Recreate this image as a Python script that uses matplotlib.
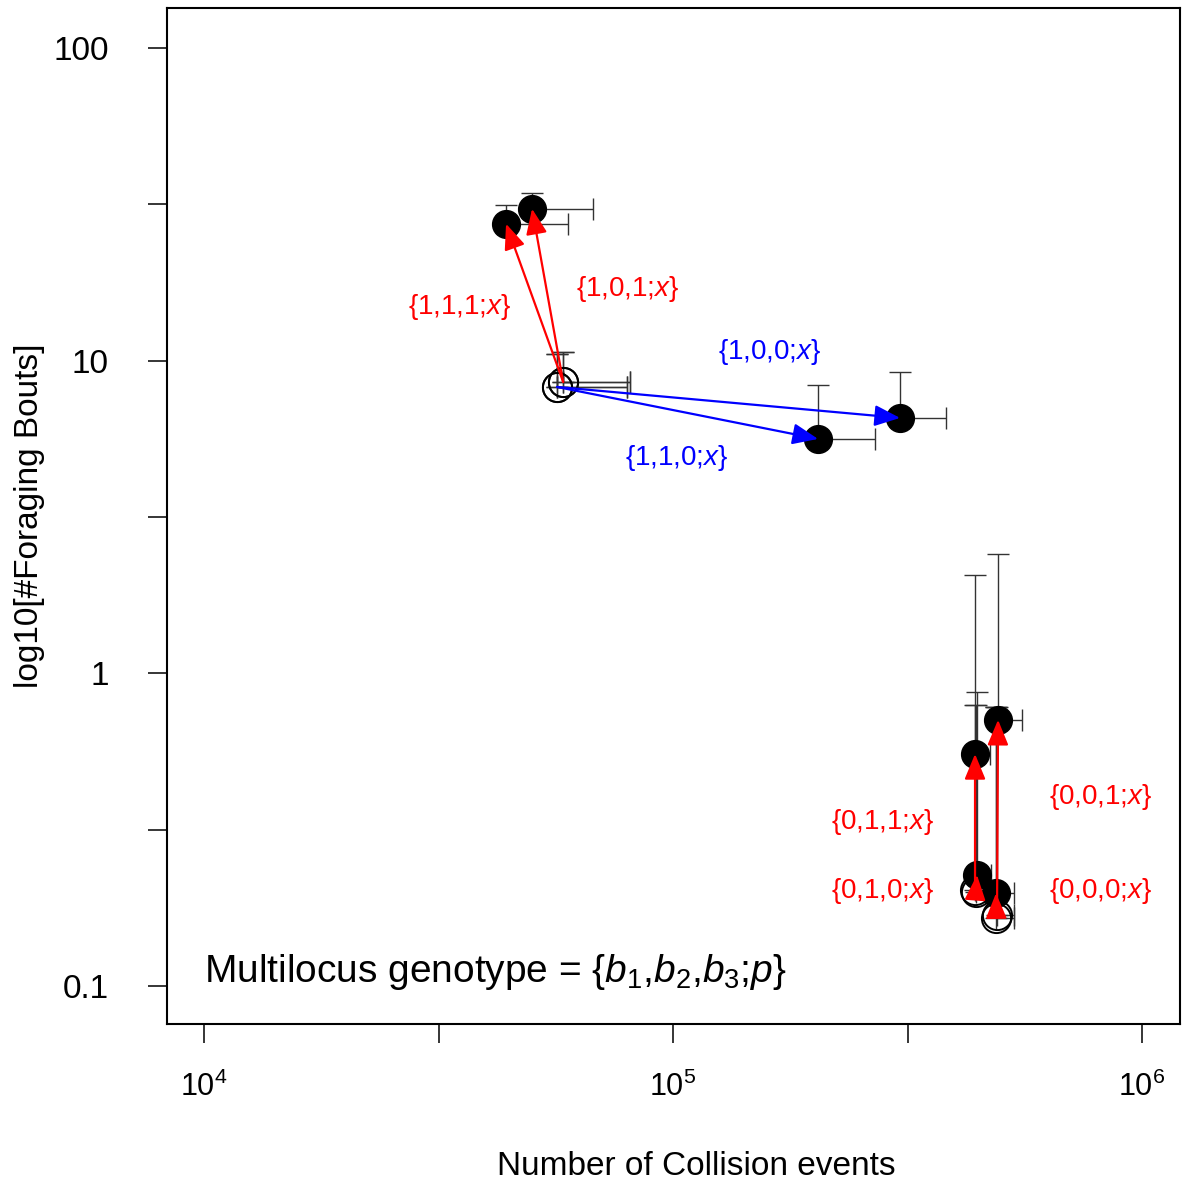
import numpy as np
import matplotlib
matplotlib.use('Agg')
import matplotlib.pyplot as plt

plt.rcParams['font.family'] = ['Liberation Sans', 'DejaVu Sans']
plt.rcParams['mathtext.fontset'] = 'custom'
plt.rcParams['mathtext.rm'] = 'Liberation Sans'
plt.rcParams['mathtext.it'] = 'Liberation Sans:italic'

# **********************************************
# dados: genótipos, ancestral (aberto) e evoluído (cheio)
genotypes = ['1,1,1', '1,0,1', '1,0,0', '1,1,0', '0,1,1', '0,0,1', '0,1,0', '0,0,0']
arrow_colors = ['red', 'red', 'blue', 'blue', 'red', 'red', 'red', 'red']

anc_x = [58300, 58300, 56600, 56600, 440500, 490700, 442000, 489000]
anc_y = [8.55, 8.55, 8.24, 8.24, 0.203, 0.169, 0.200, 0.165]
anc_xhi = [81000, 81000, 79800, 79800, 470000, 533000, 472000, 533000]
anc_yhi = [10.66, 10.66, 10.50, 10.50, 0.79, 0.78, 0.79, 0.78]

evo_x = [44050, 50050, 304800, 203800, 440500, 493200, 444800, 488300]
evo_y = [27.4, 30.6, 6.56, 5.62, 0.552, 0.710, 0.2266, 0.198]
evo_xhi = [59730, 67520, 382000, 269600, 474000, 554700, 476000, 533400]
evo_yhi = [31.5, 34.4, 9.20, 8.36, 2.06, 2.41, 0.872, 0.781]

# posições dos rótulos (em coordenadas de dados)
label_x = [35150, 80160, 161000, 102000, 280500, 817800, 280500, 817800]
label_y = [14.85, 16.96, 10.66, 4.88, 0.335, 0.403, 0.2014, 0.2014]

# **********************************************
fig = plt.figure(figsize=(11.82, 11.82), dpi=100)
ax = fig.add_axes([167 / 1182, 1 - 1024 / 1182, (1180 - 167) / 1182, (1024 - 8) / 1182])
ax.set_xscale('log')
ax.set_yscale('log')
ax.set_xlim(10**3.921, 10**6.081)
ax.set_ylim(10**-1.1215, 10**2.128)

for i in range(len(genotypes)):
    for x, y, xh, yh in [(anc_x[i], anc_y[i], anc_xhi[i], anc_yhi[i]),
                         (evo_x[i], evo_y[i], evo_xhi[i], evo_yhi[i])]:
        ax.errorbar([x], [y], xerr=[[0], [xh - x]], yerr=[[0], [yh - y]], fmt='none',
                    ecolor='#333333', elinewidth=1, capsize=8, capthick=1, zorder=2)
    ax.plot(anc_x[i], anc_y[i], 'o', ms=21, mfc='none', mec='black', mew=1.4, zorder=3)
    ax.plot(evo_x[i], evo_y[i], 'o', ms=20, mfc='black', mec='black', zorder=3)
    ax.annotate('', xy=(evo_x[i], evo_y[i]), xytext=(anc_x[i], anc_y[i]),
                arrowprops=dict(arrowstyle='-|>,head_length=0.65,head_width=0.27',
                                color=arrow_colors[i], lw=1.6, mutation_scale=24,
                                shrinkA=0, shrinkB=0), zorder=4)
    ax.text(label_x[i], label_y[i], '{' + genotypes[i] + ';$\\mathit{x}$}',
            color=arrow_colors[i], fontsize=20, ha='center', va='center')

ax.text(10**4.0, 10**-0.955, 'Multilocus genotype = {$b_1$,$b_2$,$b_3$;$p$}',
        fontsize=28, ha='left', va='center')

# eixos no estilo R
ax.set_xticks([1e4, 10**4.5, 1e5, 10**5.5, 1e6])
ax.set_xticklabels(['$10^{4}$', '', '$10^{5}$', '', '$10^{6}$'])
ax.set_yticks([0.1, 10**-0.5, 1, 10**0.5, 10, 10**1.5, 100])
ax.set_yticklabels(['0.1', '', '1', '', '10', '', '100'])
ax.minorticks_off()
ax.tick_params(axis='both', direction='out', length=14, width=1.1)
ax.tick_params(axis='x', pad=20, labelsize=22)
ax.tick_params(axis='y', pad=28, labelsize=24)
for s in ax.spines.values():
    s.set_linewidth(1.5)
ax.set_xlabel('Number of Collision events', fontsize=24, labelpad=34)
ax.xaxis.set_label_coords(0.523, -0.125)
ax.set_ylabel('log10[#Foraging Bouts]', fontsize=24, labelpad=6)

fig.savefig('out.png', dpi=100)
